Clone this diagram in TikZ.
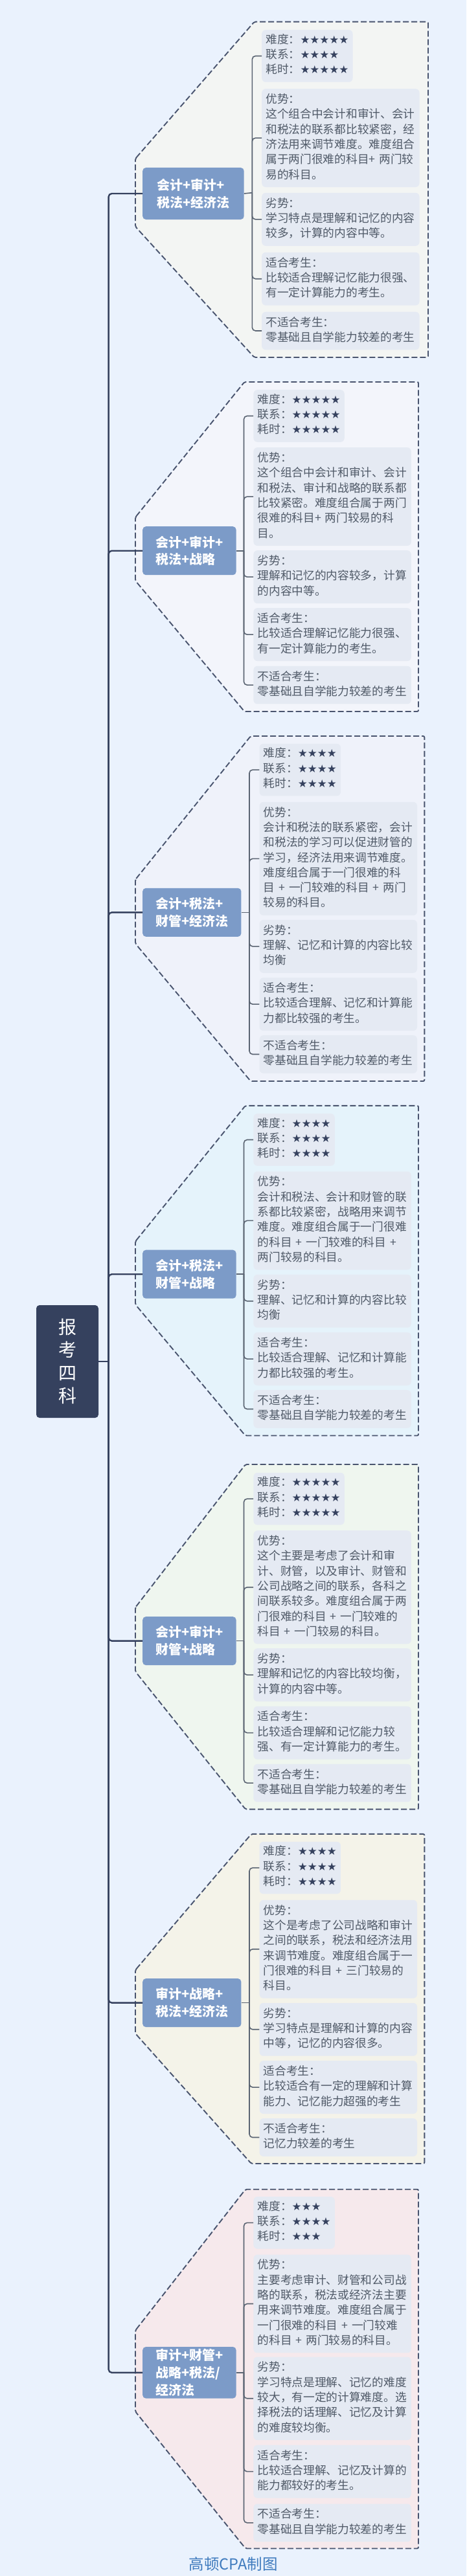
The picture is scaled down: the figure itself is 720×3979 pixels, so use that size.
\documentclass[tikz,border=0pt]{standalone}
\usepackage{fontspec}
\setmainfont{Noto Sans CJK SC}
\newfontfamily\starfont{DejaVu Sans}
\definecolor{bg}{HTML}{EAF2FD}
\definecolor{navy}{HTML}{35415E}
\definecolor{steel}{HTML}{7C9BC8}
\definecolor{ink}{HTML}{505A68}
\definecolor{wire}{HTML}{5A6472}
\definecolor{pane}{HTML}{E5EAF3}
\definecolor{capblue}{HTML}{3F7BBE}
\definecolor{p1}{HTML}{F3F5F3}
\definecolor{p2}{HTML}{F3F5FB}
\definecolor{p3}{HTML}{EFF2FA}
\definecolor{p4}{HTML}{E5F3FB}
\definecolor{p5}{HTML}{EFF6EF}
\definecolor{p6}{HTML}{F4F3E9}
\definecolor{p7}{HTML}{F6E9EC}
\newcommand{\xing}{\starfont\color{navy}\fontsize{16.7}{23.3}\selectfont}

\begin{document}
\begin{tikzpicture}[
		x=1pt, y=-1pt,
		root/.style={rectangle, fill=navy, rounded corners=5, text=white, align=center, inner xsep=34, inner ysep=0, minimum height=174, font=\fontsize{28}{35.5}\selectfont},
		m/.style={rectangle, anchor=west, fill=steel, rounded corners=5, text=white, align=left, inner xsep=20, minimum height=75, font=\bfseries\fontsize{20}{26.8}\selectfont},
		l/.style={rectangle, anchor=north west, fill=pane, rounded corners=6, text=ink, align=left, text width=231, inner xsep=6.2, inner ysep=6, font=\fontsize{17.7}{23.3}\selectfont, execute at begin node=\strut, execute at end node=\strut},
		st/.style={l, text width={}, align=left},
		cap1/.style={text=capblue, font=\fontsize{23.5}{28}\selectfont},
		hx/.style={draw=navy!90, line width=1.9, dash pattern=on 9 off 4, rounded corners=2},
		t/.style={draw=navy, line width=2.4, rounded corners=5},
		r/.style={draw=wire, line width=1.6, rounded corners=5}
		]
		
		%Background
		\useasboundingbox (0,0) rectangle (720,3979);
		\fill[bg] (0,0) rectangle (720,3979);
		
		%Panels
		\draw[hx, fill=p1] (209,245) -- (392.6,33.7) -- (661,33.7) -- (661,552) -- (392.6,552) -- (209,350) -- cycle;
		\draw[hx, fill=p2] (209,799) -- (377.4,590) -- (646,590) -- (646,1099) -- (377.4,1099) -- (209,897) -- cycle;
		\draw[hx, fill=p3] (209,1358.6) -- (387,1137) -- (655.3,1137) -- (655.3,1670) -- (387,1670) -- (209,1457.5) -- cycle;
		\draw[hx, fill=p4] (209,1917.5) -- (378.8,1707.9) -- (646,1707.9) -- (646,2217.5) -- (378.8,2217.5) -- (209,2015) -- cycle;
		\draw[hx, fill=p5] (209,2482.9) -- (379,2262) -- (646,2262) -- (646,2794.6) -- (379,2794.6) -- (209,2582) -- cycle;
		\draw[hx, fill=p6] (209,3042.9) -- (388,2832.9) -- (655.3,2832.9) -- (655.3,3342) -- (388,3342) -- (209,3141) -- cycle;
		\draw[hx, fill=p7] (209,3599.6) -- (379,3381.7) -- (646,3381.7) -- (646,3936.4) -- (379,3936.4) -- (209,3725) -- cycle;
		
		%Nodes
		\node[root]	(r0)	at (104, 2103)		{报\\考\\四\\科};
		\coordinate	(t0)	at (167.6, 2103);
		
		\node[m, minimum height=80, minimum width=156.5]	(m1)	at (220, 299)	{会计+审计+\\税法+经济法};
		\coordinate	(j1)	at (389.4, 297.7);
		\node[st]	(l11)	at (404, 46)	{难度：{\xing ★★★★★}\\联系：{\xing ★★★★}\\耗时：{\xing ★★★★★}};
		\node[l]	(l12)	at (404, 137)	{优势：\\这个组合中会计和审计、会计\\和税法的联系都比较紧密，经\\济法用来调节难度。难度组合\\属于两门很难的科目+ 两门较\\易的科目。};
		\node[l]	(l13)	at (404, 297.7)	{劣势：\\学习特点是理解和记忆的内容\\较多，计算的内容中等。};
		\node[l]	(l14)	at (404, 389.6)	{适合考生：\\比较适合理解记忆能力很强、\\有一定计算能力的考生。};
		\node[l]	(l15)	at (404, 481.5)	{不适合考生：\\零基础且自学能力较差的考生};
		
		\node[m]	(m2)	at (220, 850.7)	{会计+审计+\\税法+战略};
		\coordinate	(j2)	at (376.5, 850.7);
		\node[st]	(l21)	at (391.2, 602)	{难度：{\xing ★★★★★}\\联系：{\xing ★★★★★}\\耗时：{\xing ★★★★★}};
		\node[l]	(l22)	at (391.2, 691)	{优势：\\这个组合中会计和审计、会计\\和税法、审计和战略的联系都\\比较紧密。难度组合属于两门\\很难的科目+ 两门较易的科\\目。};
		\node[l]	(l23)	at (391.2, 850)	{劣势：\\理解和记忆的内容较多，计算\\的内容中等。};
		\node[l]	(l24)	at (391.2, 939)	{适合考生：\\比较适合理解记忆能力很强、\\有一定计算能力的考生。};
		\node[l]	(l25)	at (391.2, 1028.6)	{不适合考生：\\零基础且自学能力较差的考生};
		
		\node[m]	(m3)	at (220, 1409.3)	{会计+税法+\\财管+经济法};
		\coordinate	(j3)	at (385, 1409.3);
		\node[st]	(l31)	at (400.4, 1148.6)	{难度：{\xing ★★★★}\\联系：{\xing ★★★★}\\耗时：{\xing ★★★★}};
		\node[l]	(l32)	at (400.4, 1238.6)	{优势：\\会计和税法的联系紧密，会计\\和税法的学习可以促进财管的\\学习，经济法用来调节难度。\\难度组合属于一门很难的科\\目 + 一门较难的科目 + 两门\\较易的科目。};
		\node[l]	(l33)	at (400.4, 1420.7)	{劣势：\\理解、记忆和计算的内容比较\\均衡};
		\node[l]	(l34)	at (400.4, 1510)	{适合考生：\\比较适合理解、记忆和计算能\\力都比较强的考生。};
		\node[l]	(l35)	at (400.4, 1599)	{不适合考生：\\零基础且自学能力较差的考生};
		
		\node[m]	(m4)	at (220, 1968.2)	{会计+税法+\\财管+战略};
		\coordinate	(j4)	at (376.5, 1968.2);
		\node[st]	(l41)	at (391.2, 1720)	{难度：{\xing ★★★★}\\联系：{\xing ★★★★}\\耗时：{\xing ★★★★}};
		\node[l]	(l42)	at (391.2, 1809.3)	{优势：\\会计和税法、会计和财管的联\\系都比较紧密，战略用来调节\\难度。难度组合属于一门很难\\的科目 + 一门较难的科目 +\\两门较易的科目。};
		\node[l]	(l43)	at (391.2, 1968.6)	{劣势：\\理解、记忆和计算的内容比较\\均衡};
		\node[l]	(l44)	at (391.2, 2057.9)	{适合考生：\\比较适合理解、记忆和计算能\\力都比较强的考生。};
		\node[l]	(l45)	at (391.2, 2147)	{不适合考生：\\零基础且自学能力较差的考生};
		
		\node[m]	(m5)	at (220, 2534.6)	{会计+审计+\\财管+战略};
		\coordinate	(j5)	at (376.5, 2534.6);
		\node[st]	(l51)	at (391.2, 2274.6)	{难度：{\xing ★★★★★}\\联系：{\xing ★★★★★}\\耗时：{\xing ★★★★★}};
		\node[l]	(l52)	at (391.2, 2364)	{优势：\\这个主要是考虑了会计和审\\计、财管，以及审计、财管和\\公司战略之间的联系，各科之\\间联系较多。难度组合属于两\\门很难的科目 + 一门较难的\\科目 + 一门较易的科目。};
		\node[l]	(l53)	at (391.2, 2546)	{劣势：\\理解和记忆的内容比较均衡，\\计算的内容中等。};
		\node[l]	(l54)	at (391.2, 2635.4)	{适合考生：\\比较适合理解和记忆能力较\\强、有一定计算能力的考生。};
		\node[l]	(l55)	at (391.2, 2724.6)	{不适合考生：\\零基础且自学能力较差的考生};
		
		\node[m]	(m6)	at (220, 3093.6)	{审计+战略+\\税法+经济法};
		\coordinate	(j6)	at (385, 3093.6);
		\node[st]	(l61)	at (400.4, 2844.6)	{难度：{\xing ★★★★}\\联系：{\xing ★★★★}\\耗时：{\xing ★★★★}};
		\node[l]	(l62)	at (400.4, 2934.6)	{优势：\\这个是考虑了公司战略和审计\\之间的联系，税法和经济法用\\来调节难度。难度组合属于一\\门很难的科目 + 三门较易的\\科目。};
		\node[l]	(l63)	at (400.4, 3093.6)	{劣势：\\学习特点是理解和计算的内容\\中等，记忆的内容很多。};
		\node[l]	(l64)	at (400.4, 3182.9)	{适合考生：\\比较适合有一定的理解和计算\\能力、记忆能力超强的考生};
		\node[l]	(l65)	at (400.4, 3272)	{不适合考生：\\记忆力较差的考生};
		
		\node[m]	(m7)	at (220, 3664.8)	{审计+财管+\\战略+税法/\\经济法};
		\coordinate	(j7)	at (376.5, 3664.8);
		\node[st]	(l71)	at (391.2, 3392.8)	{难度：{\xing ★★★}\\联系：{\xing ★★★★}\\耗时：{\xing ★★★}};
		\node[l]	(l72)	at (391.2, 3482.4)	{优势：\\主要考虑审计、财管和公司战\\略的联系，税法或经济法主要\\用来调节难度。难度组合属于\\一门很难的科目 + 一门较难\\的科目 + 两门较易的科目。};
		\node[l]	(l73)	at (391.2, 3640.3)	{劣势：\\学习特点是理解、记忆的难度\\较大，有一定的计算难度。选\\择税法的话理解、记忆及计算\\的难度较均衡。};
		\node[l]	(l74)	at (391.2, 3776.5)	{适合考生：\\比较适合理解、记忆及计算的\\能力都较好的考生。};
		\node[l]	(l75)	at (391.2, 3867.3)	{不适合考生：\\零基础且自学能力较差的考生};
		
		\node[cap1]	(c0)	at (360.4, 3960.8)	{高顿CPA制图};
		
		%Lines
		\draw[t] (r0.east) -- (t0);
		\draw[t] (t0) |- (m1.west);
		\draw[t] (t0) |- (m2.west);
		\draw[t] (t0) |- (m3.west);
		\draw[t] (t0) |- (m4.west);
		\draw[t] (t0) |- (m5.west);
		\draw[t] (t0) |- (m6.west);
		\draw[t] (t0) |- (m7.west);
		
		\draw[r] (m1.east) -- (j1);
		\draw[r] (j1) |- (l11.west);
		\draw[r] (j1) |- (l12.west);
		\draw[r] (j1) |- (l13.west);
		\draw[r] (j1) |- (l14.west);
		\draw[r] (j1) |- (l15.west);
		
		\draw[r] (m2.east) -- (j2);
		\draw[r] (j2) |- (l21.west);
		\draw[r] (j2) |- (l22.west);
		\draw[r] (j2) |- (l23.west);
		\draw[r] (j2) |- (l24.west);
		\draw[r] (j2) |- (l25.west);
		
		\draw[r] (m3.east) -- (j3);
		\draw[r] (j3) |- (l31.west);
		\draw[r] (j3) |- (l32.west);
		\draw[r] (j3) |- (l33.west);
		\draw[r] (j3) |- (l34.west);
		\draw[r] (j3) |- (l35.west);
		
		\draw[r] (m4.east) -- (j4);
		\draw[r] (j4) |- (l41.west);
		\draw[r] (j4) |- (l42.west);
		\draw[r] (j4) |- (l43.west);
		\draw[r] (j4) |- (l44.west);
		\draw[r] (j4) |- (l45.west);
		
		\draw[r] (m5.east) -- (j5);
		\draw[r] (j5) |- (l51.west);
		\draw[r] (j5) |- (l52.west);
		\draw[r] (j5) |- (l53.west);
		\draw[r] (j5) |- (l54.west);
		\draw[r] (j5) |- (l55.west);
		
		\draw[r] (m6.east) -- (j6);
		\draw[r] (j6) |- (l61.west);
		\draw[r] (j6) |- (l62.west);
		\draw[r] (j6) |- (l63.west);
		\draw[r] (j6) |- (l64.west);
		\draw[r] (j6) |- (l65.west);
		
		\draw[r] (m7.east) -- (j7);
		\draw[r] (j7) |- (l71.west);
		\draw[r] (j7) |- (l72.west);
		\draw[r] (j7) |- (l73.west);
		\draw[r] (j7) |- (l74.west);
		\draw[r] (j7) |- (l75.west);
		
	\end{tikzpicture}
\end{document}
